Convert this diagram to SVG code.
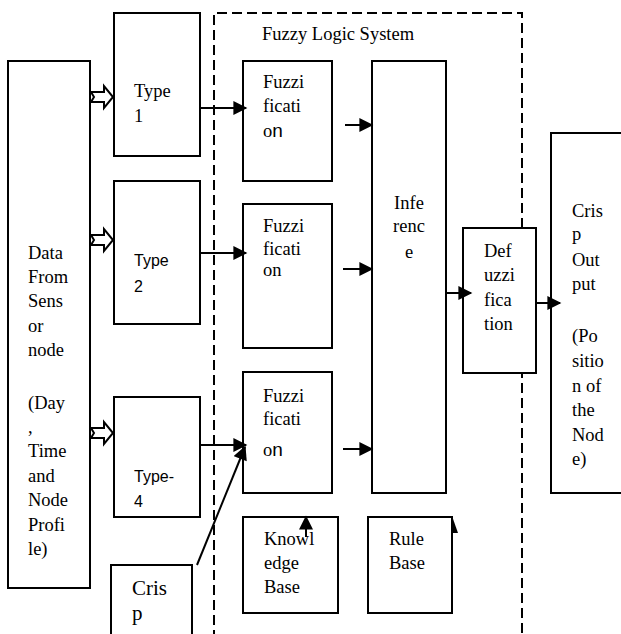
<svg xmlns="http://www.w3.org/2000/svg" width="621" height="634" viewBox="0 0 621 634">
<defs>
<marker id="ah" viewBox="0 0 10 10" refX="9" refY="5" markerWidth="7.5" markerHeight="7" orient="auto" markerUnits="strokeWidth">
<path d="M0,0 L10,5 L0,10 Z" fill="#000"/>
</marker>
</defs>
<style>
.box{fill:#fff;stroke:#000;stroke-width:2}
.t{font-family:"Liberation Serif","Times New Roman",serif;font-size:18.5px;fill:#000}
.s{font-family:"Liberation Sans",Arial,sans-serif;font-size:16px;fill:#000}
.c{stroke:#000;stroke-width:2;fill:none;marker-end:url(#ah)}
.blk{fill:#fff;stroke:#000;stroke-width:2;stroke-linejoin:miter}
.dash{fill:none;stroke:#000;stroke-width:2;stroke-dasharray:10 5}
</style>
<rect width="621" height="634" fill="#fff"/>

<g id="fls">
<path class="dash" d="M214,640 L214,13 L522,13 L522,640"/>
<text class="t" x="262" y="40">Fuzzy Logic System</text>
</g>

<g id="data">
<rect class="box" x="8" y="61" width="82" height="527"/>
<text class="t">
<tspan x="28" y="259">Data</tspan>
<tspan x="28" y="283">From</tspan>
<tspan x="28" y="307">Sens</tspan>
<tspan x="28" y="332">or</tspan>
<tspan x="28" y="356">node</tspan>
<tspan x="28" y="409">(Day</tspan>
<tspan x="28" y="433">,</tspan>
<tspan x="28" y="457">Time</tspan>
<tspan x="28" y="482">and</tspan>
<tspan x="28" y="506">Node</tspan>
<tspan x="28" y="531">Profi</tspan>
<tspan x="28" y="555">le)</tspan>
</text>
</g>

<g id="type1">
<rect class="box" x="114" y="13" width="86" height="143"/>
<text class="t"><tspan x="134" y="97">Type</tspan><tspan x="134" y="122">1</tspan></text>
</g>
<g id="type2">
<rect class="box" x="114" y="181" width="86" height="143"/>
<text class="s"><tspan x="134" y="266">Type</tspan><tspan x="134" y="292">2</tspan></text>
</g>
<g id="type4">
<rect class="box" x="114" y="397" width="86" height="120"/>
<text class="s"><tspan x="134" y="482">Type-</tspan><tspan x="134" y="507">4</tspan></text>
</g>
<g id="crisp">
<rect class="box" x="111" y="565" width="81" height="80"/>
<text class="t" style="font-size:21px"><tspan x="132" y="595">Cris</tspan><tspan x="132" y="620">p</tspan></text>
</g>

<g id="fuzz1">
<rect class="box" x="243" y="61" width="89" height="120"/>
<text class="t"><tspan x="263" y="88">Fuzzi</tspan><tspan x="263" y="112">ficati</tspan><tspan x="263" y="137">o<tspan style="font-family:'Liberation Sans',Arial,sans-serif;font-size:19px">n</tspan></tspan></text>
</g>
<g id="fuzz2">
<rect class="box" x="243" y="204" width="89" height="144"/>
<text class="t"><tspan x="263" y="232">Fuzzi</tspan><tspan x="263" y="255">ficati</tspan><tspan x="263" y="276">on</tspan></text>
</g>
<g id="fuzz3">
<rect class="box" x="243" y="372" width="89" height="121"/>
<text class="t"><tspan x="263" y="402">Fuzzi</tspan><tspan x="263" y="425">ficati</tspan><tspan x="263" y="456">o<tspan style="font-family:'Liberation Sans',Arial,sans-serif;font-size:19px">n</tspan></tspan></text>
</g>

<g id="inference">
<rect class="box" x="372" y="61" width="74" height="432"/>
<text class="t" text-anchor="middle"><tspan x="409" y="209">Infe</tspan><tspan x="409" y="232">renc</tspan><tspan x="409" y="258">e</tspan></text>
</g>

<g id="kb">
<rect class="box" x="243" y="517" width="95" height="96"/>
<text class="t"><tspan x="264" y="545">Knowl</tspan><tspan x="264" y="569">edge</tspan><tspan x="264" y="593">Base</tspan></text>
</g>
<g id="rb">
<rect class="box" x="368" y="517" width="84" height="96"/>
<text class="t"><tspan x="389" y="545">Rule</tspan><tspan x="389" y="569">Base</tspan></text>
</g>

<g id="defuzz">
<rect class="box" x="463" y="228" width="73" height="145"/>
<text class="t"><tspan x="484" y="257">Def</tspan><tspan x="484" y="281">uzzi</tspan><tspan x="484" y="306">fica</tspan><tspan x="484" y="330">tion</tspan></text>
</g>

<g id="output">
<rect class="box" x="551" y="133" width="80" height="360"/>
<text class="t"><tspan x="572" y="217">Cris</tspan><tspan x="572" y="240">p</tspan><tspan x="572" y="266">Out</tspan><tspan x="572" y="290">put</tspan><tspan x="572" y="342">(Po</tspan><tspan x="572" y="367">sitio</tspan><tspan x="572" y="392">n of</tspan><tspan x="572" y="416">the</tspan><tspan x="572" y="441">Nod</tspan><tspan x="572" y="465">e)</tspan></text>
</g>

<g id="connectors">
<path class="blk" d="M91,92 L104,92 L104,86 L113,97 L104,108 L104,102 L91,102 L94,97 Z"/>
<path class="blk" d="M91,235 L104,235 L104,229 L113,240 L104,251 L104,245 L91,245 L94,240 Z"/>
<path class="blk" d="M91,428 L104,428 L104,422 L113,433 L104,444 L104,438 L91,438 L94,433 Z"/>
<line class="c" x1="200" y1="108" x2="246" y2="108"/>
<line class="c" x1="200" y1="253" x2="246" y2="253"/>
<line class="c" x1="200" y1="445" x2="246" y2="445"/>
<line class="c" x1="197" y1="565" x2="245" y2="447"/>
<line class="c" x1="345" y1="125" x2="372" y2="125"/>
<line class="c" x1="343" y1="269" x2="372" y2="269"/>
<line class="c" x1="343" y1="449" x2="372" y2="449"/>
<line class="c" x1="446" y1="293" x2="471" y2="293"/>
<line class="c" x1="536" y1="303" x2="560" y2="303"/>
<line class="c" x1="306" y1="537" x2="306" y2="517"/>
<path d="M452,516 L458,533 L452,533 Z" fill="#000"/>
</g>
</svg>
